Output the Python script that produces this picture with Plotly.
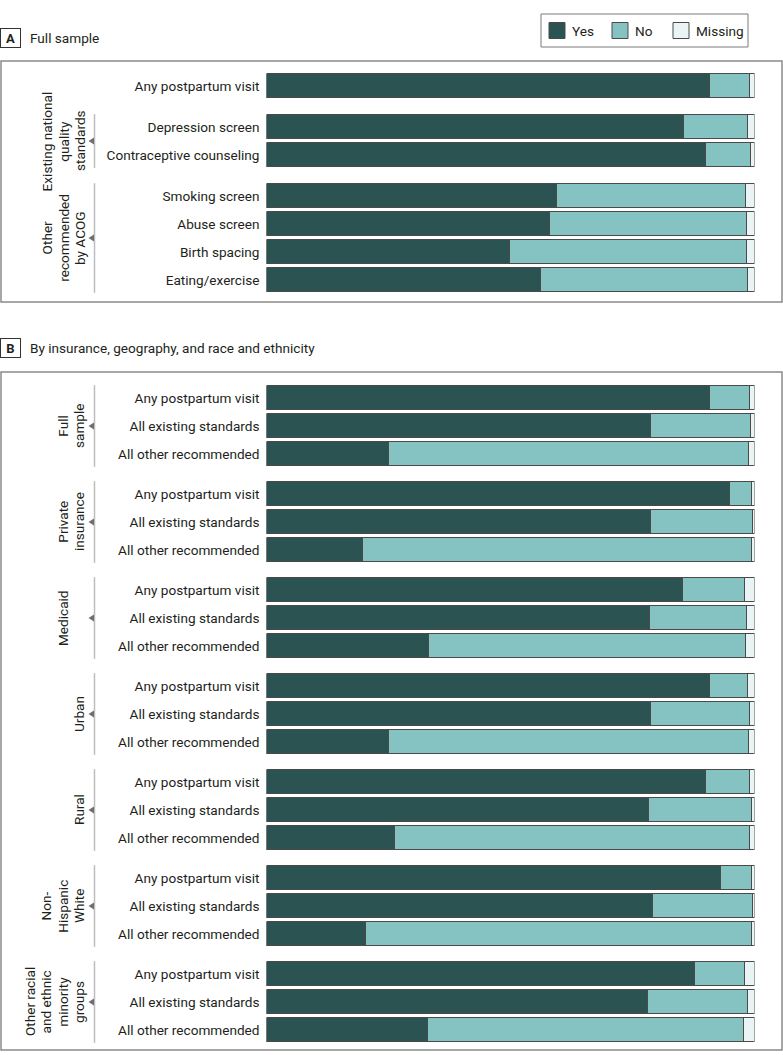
import plotly.graph_objects as go

# ---------------- data ----------------
a_labels = ["Any postpartum visit", "Depression screen", "Contraceptive counseling",
            "Smoking screen", "Abuse screen", "Birth spacing", "Eating/exercise"]
a_group = [0, 1, 1, 2, 2, 2, 2]
a_group_names = [[], ["Existing national", "quality", "standards"], ["Other", "recommended", "by ACOG"]]
a_yes = [90.8, 85.5, 89.9, 59.4, 58.0, 49.8, 56.1]
a_no = [8.1, 13.1, 9.2, 38.8, 40.4, 48.6, 42.5]
a_missing = [1.1, 1.4, 0.9, 1.8, 1.6, 1.6, 1.4]

b_groups = [["Full", "sample"], ["Private", "insurance"], ["Medicaid"], ["Urban"], ["Rural"],
            ["Non-", "Hispanic", "White"], ["Other racial", "and ethnic", "minority", "groups"]]
b_rows = ["Any postpartum visit", "All existing standards", "All other recommended"]
b_yes = [[90.8, 78.7, 25.0], [94.9, 78.6, 19.7], [85.2, 78.4, 33.2], [90.8, 78.7, 25.0],
         [90.0, 78.3, 26.2], [93.1, 79.1, 20.3], [87.7, 78.1, 33.0]]
b_no = [[8.1, 20.4, 73.8], [4.5, 21.0, 79.7], [12.7, 19.9, 64.9], [7.8, 20.3, 73.8],
        [9.0, 21.1, 72.7], [6.3, 20.4, 79.0], [10.2, 20.5, 64.8]]
b_missing = [[1.1, 0.9, 1.2], [0.6, 0.4, 0.6], [2.1, 1.7, 1.9], [1.4, 1.0, 1.2],
             [1.0, 0.6, 1.1], [0.6, 0.5, 0.7], [2.1, 1.4, 2.2]]

series_names = ["Yes", "No", "Missing"]

# ---------------- style / layout ----------------
W, H = 783, 1055
FONT = "Roboto, Arial, sans-serif"
FS = 13.6
TXT = "#231f20"
COLORS = {"Yes": "#2b5352", "No": "#85c3c2", "Missing": "#ebf4f5"}
OUTLINE = "#4a4a4a"
FRAME = "#8a8a8a"
BRACKET = "#bdbdbd"

def px(x):
    return x / W

def py(y):
    return 1 - y / H

ROW = 28.0          # pixel pitch of one bar row
GAP_A = 13 / ROW    # extra gap between groups (row units)
GAP_B = 12 / ROW
A_ORIGIN = 86       # pixel centre of first row
B_ORIGIN = 398
BAR_W = 24 / ROW
X0, X1 = 266.5, 754.5
LINE_SP = 16.3      # spacing of rotated group-label lines (px)

# positions (row units)
a_pos = [i + a_group[i] * GAP_A for i in range(len(a_labels))]
b_pos, b_lab = [], []
for k in range(len(b_groups)):
    for r in range(len(b_rows)):
        b_pos.append(3 * k + r + k * GAP_B)
        b_lab.append(b_rows[r])

b_yes_f = [v for g in b_yes for v in g]
b_no_f = [v for g in b_no for v in g]
b_mis_f = [v for g in b_missing for v in g]

fig = go.Figure()
for name, vals in zip(series_names, [a_yes, a_no, a_missing]):
    fig.add_trace(go.Bar(
        x=vals, y=a_pos, orientation="h", name=name, legendgroup=name, showlegend=False,
        width=BAR_W, marker=dict(color=COLORS[name], line=dict(color=OUTLINE, width=1)),
        xaxis="x", yaxis="y", hoverinfo="x+name"))
for name, vals in zip(series_names, [b_yes_f, b_no_f, b_mis_f]):
    fig.add_trace(go.Bar(
        x=vals, y=b_pos, orientation="h", name=name, legendgroup=name, showlegend=False,
        width=BAR_W, marker=dict(color=COLORS[name], line=dict(color=OUTLINE, width=1)),
        xaxis="x2", yaxis="y2", hoverinfo="x+name"))

a_max = max(a_pos)
b_max = max(b_pos)
a_dom = [py(A_ORIGIN + ROW * (a_max + 0.5)), py(A_ORIGIN - ROW * 0.5)]
b_dom = [py(B_ORIGIN + ROW * (b_max + 0.5)), py(B_ORIGIN - ROW * 0.5)]

xax = dict(range=[0, 100], domain=[px(X0), px(X1)], visible=False, fixedrange=True)
yax_common = dict(showgrid=False, zeroline=False, showline=False, ticks="",
                  tickfont=dict(family=FONT, size=FS, color=TXT), ticklabelstandoff=6,
                  fixedrange=True)

fig.update_layout(
    width=W, height=H, autosize=False,
    margin=dict(l=0, r=0, t=0, b=0),
    paper_bgcolor="white", plot_bgcolor="white",
    barmode="stack", bargap=0,
    font=dict(family=FONT, size=FS, color=TXT),
    xaxis=dict(**xax, anchor="y"),
    xaxis2=dict(**xax, anchor="y2"),
    yaxis=dict(**yax_common, domain=a_dom, range=[a_max + 0.5, -0.5], anchor="x",
               tickmode="array", tickvals=a_pos, ticktext=a_labels),
    yaxis2=dict(**yax_common, domain=b_dom, range=[b_max + 0.5, -0.5], anchor="x2",
                tickmode="array", tickvals=b_pos, ticktext=b_lab),
    showlegend=False,
)

shapes = []
annots = []

# legend (drawn as a key box)
shapes.append(dict(type="rect", xref="paper", yref="paper", x0=px(541), x1=px(748),
                   y0=py(47), y1=py(14), line=dict(color="#7a7a7a", width=1), fillcolor="white"))
for name, sx in zip(series_names, [549, 612, 673]):
    shapes.append(dict(type="rect", xref="paper", yref="paper", x0=px(sx), x1=px(sx + 16),
                       y0=py(38.5), y1=py(22.5), fillcolor=COLORS[name],
                       line=dict(color=OUTLINE, width=1)))
    annots.append(dict(text=name, xref="paper", yref="paper", x=px(sx + 20.5), y=py(30.5),
                       xanchor="left", yanchor="middle", showarrow=False,
                       font=dict(family=FONT, size=FS, color=TXT)))

# panel frames
shapes.append(dict(type="rect", xref="paper", yref="paper", x0=px(1), x1=px(782),
                   y0=py(302), y1=py(61), line=dict(color=FRAME, width=1.5)))
shapes.append(dict(type="rect", xref="paper", yref="paper", x0=px(1), x1=px(782),
                   y0=py(1050), y1=py(372), line=dict(color=FRAME, width=1.5)))

# panel titles
for letter, title, yc in [("A", "Full sample", 38), ("B", "By insurance, geography, and race and ethnicity", 348)]:
    annots.append(dict(text="<b>%s</b>" % letter, xref="paper", yref="paper", x=px(10.5), y=py(yc),
                       xanchor="center", yanchor="middle", showarrow=False,
                       font=dict(family=FONT, size=13, color=TXT),
                       bordercolor="#333", borderwidth=1, borderpad=1.5, width=16, height=15))
    annots.append(dict(text=title, xref="paper", yref="paper", x=px(28), y=py(yc),
                       xanchor="left", yanchor="middle", showarrow=False,
                       font=dict(family=FONT, size=FS, color=TXT)))

BR_X = 94.5
def bracket(yref, first, last, lines, last_x):
    ext = 0.46
    shapes.append(dict(type="line", xref="paper", yref=yref, x0=px(BR_X), x1=px(BR_X),
                       y0=first - ext, y1=last + ext, line=dict(color=BRACKET, width=1.5)))
    mid = (first + last) / 2
    th = 3.5 / ROW
    shapes.append(dict(type="path", xref="paper", yref=yref,
                       path="M %f,%f L %f,%f L %f,%f Z" % (px(BR_X - 0.5), mid - th, px(BR_X - 0.5), mid + th,
                                                          px(BR_X - 6), mid),
                       fillcolor="#6f6f6f", line=dict(width=0)))
    n = len(lines)
    for i, t in enumerate(lines):
        annots.append(dict(text=t, xref="paper", yref=yref, x=px(last_x - (n - 1 - i) * LINE_SP), y=mid,
                           xanchor="center", yanchor="middle", textangle=-90, showarrow=False,
                           font=dict(family=FONT, size=FS, color=TXT)))

# panel A groups (group 0 has no bracket)
for gi in (1, 2):
    idx = [i for i, g in enumerate(a_group) if g == gi]
    bracket("y", a_pos[idx[0]], a_pos[idx[-1]], a_group_names[gi], 80)

# panel B groups
b_last_x = [79, 79, 63, 79, 79, 79, 79]
for k in range(len(b_groups)):
    bracket("y2", b_pos[3 * k], b_pos[3 * k + 2], b_groups[k], b_last_x[k])

fig.update_layout(shapes=shapes, annotations=annots)
fig.write_html("out.html", config={"displayModeBar": False, "staticPlot": False},
               post_script="document.body.style.margin='0px';")
